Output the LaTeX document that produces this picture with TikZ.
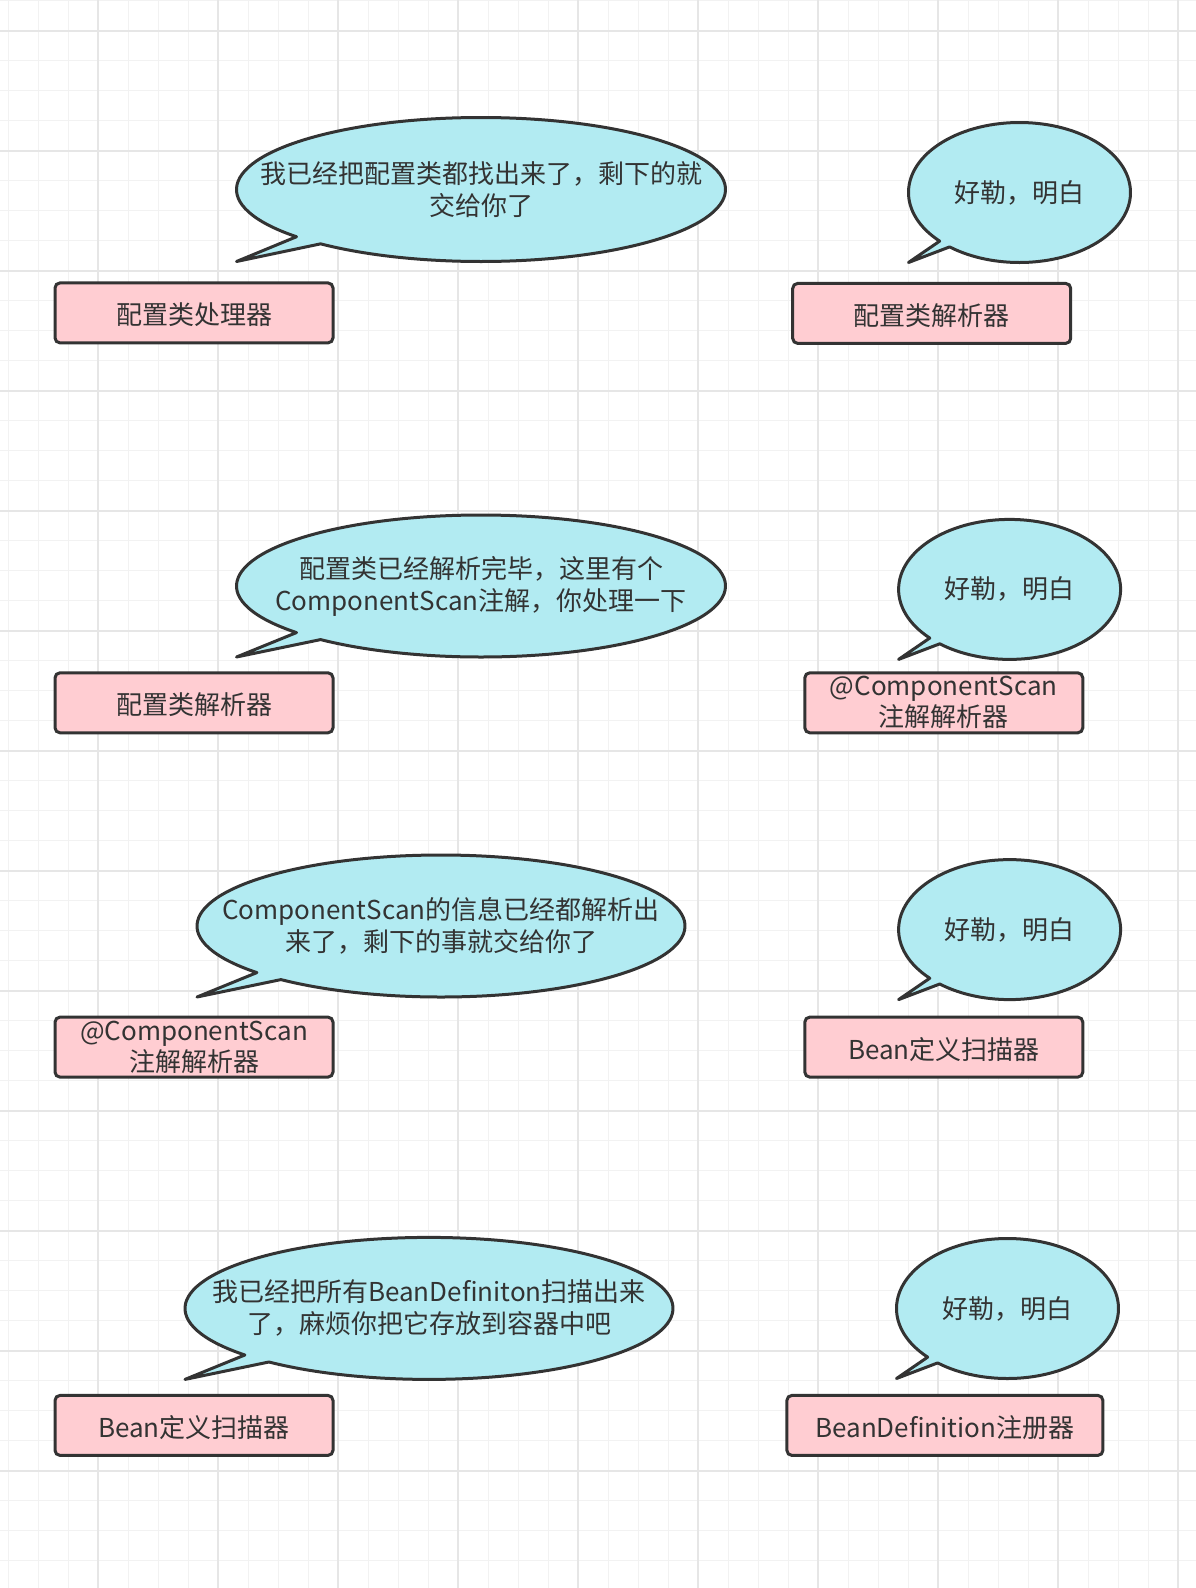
\documentclass[tikz,border=0pt]{standalone}
\usepackage{fontspec}
\setmainfont{Noto Sans CJK SC}
\usetikzlibrary{calc}
\definecolor{inkgray}{HTML}{333333}
\definecolor{bubblecyan}{HTML}{B2EBF2}
\definecolor{boxpink}{HTML}{FFCDD2}
\definecolor{gridlight}{HTML}{F2F2F2}
\definecolor{griddark}{HTML}{E6E6E6}
\tikzstyle{gridminor}=[line width=1.5pt,draw=gridlight]
\tikzstyle{gridmajor}=[line width=2pt,draw=griddark]
\tikzstyle{bubble}   =[line width=3pt,draw=inkgray,fill=bubblecyan,line join=round]
\tikzstyle{saying}   =[text=inkgray,align=center,inner sep=0pt,
                       font=\fontsize{26}{32}\selectfont]
\tikzstyle{actor}    =[draw=inkgray,line width=3pt,fill=boxpink,
                       rounded corners=5pt,text=inkgray,align=center,
                       inner sep=0pt,minimum width=278pt,minimum height=60pt,
                       font=\fontsize{26}{31}\selectfont]
\tikzstyle{oneline}  =[text height=25.5pt,text depth=1.7pt]
\newcommand\saybubble[7]{{%
  % #1 name, #2 centre, #3 x radius, #4 y radius,
  % #5 upper tail angle, #6 lower tail angle, #7 text
  \draw[bubble] ($(#2)+(#5:#3 and #4)$)
    arc[start angle=#5,end angle=#6+360,x radius=#3,y radius=#4]
    -- ($(#2)+(-#3,#4)$) -- cycle;   % tail tip at lower left
  \node[saying] (#1) at (#2) {#7};
}}
\begin{document}
\begin{tikzpicture}[x=1pt,y=-1pt]
  % Paper and grid
  \useasboundingbox[fill=white] (0,0) rectangle (1196,1588);
  \foreach \g in {0,...,39} \draw[gridminor] (8.3+30*\g,0) -- (8.3+30*\g,1588);
  \foreach \g in {0,...,52} \draw[gridminor] (0,0.7+30*\g) -- (1196,0.7+30*\g);
  \foreach \g in {0,...,9}  \draw[gridmajor] (98.3+120*\g,0) -- (98.3+120*\g,1588);
  \foreach \g in {0,...,12} \draw[gridmajor] (0,30.7+120*\g) -- (1196,30.7+120*\g);

  % Bubble centres
  \coordinate (SL1) at (481,189.5);
  \coordinate (SR1) at (1019.5,192.5);
  \coordinate (SL2) at (481,586);
  \coordinate (SR2) at (1009.6,589.4);
  \coordinate (SL3) at (441,926);
  \coordinate (SR3) at (1009.6,929.6);
  \coordinate (SL4) at (429,1308.4);
  \coordinate (SR4) at (1007.5,1308.5);

  % Row 1
  \saybubble{sayL1}{SL1}{244.5}{72}{139}{131}{我已经把配置类都找出来了，剩下的就\\交给你了}
  \saybubble{sayR1}{SR1}{111}{70}{136}{129}{好勒，明白}
  \node[actor,oneline] (procL1) at (194,312.9)   {配置类处理器};
  \node[actor,oneline] (procR1) at (931.7,313.4) {配置类解析器};

  % Row 2
  \saybubble{sayL2}{SL2}{244.5}{71}{139}{131}{配置类已经解析完毕，这里有个\\ComponentScan注解，你处理一下}
  \saybubble{sayR2}{SR2}{111}{70}{136}{129}{好勒，明白}
  \node[actor,oneline] (procL2) at (194,702.8) {配置类解析器};
  \node[actor] (procR2) at (943.8,702.8) {@ComponentScan\\注解解析器};

  % Row 3
  \saybubble{sayL3}{SL3}{244}{71}{139}{131}{ComponentScan的信息已经都解析出\\来了，剩下的事就交给你了}
  \saybubble{sayR3}{SR3}{111}{70}{136}{129}{好勒，明白}
  \node[actor] (procL3) at (194,1047.1) {@ComponentScan\\注解解析器};
  \node[actor,oneline] (procR3) at (943.8,1047.1) {Bean定义扫描器};

  % Row 4
  \saybubble{sayL4}{SL4}{244}{71}{139}{131}{我已经把所有BeanDefiniton扫描出来\\了，麻烦你把它存放到容器中吧}
  \saybubble{sayR4}{SR4}{111}{70}{136}{129}{好勒，明白}
  \node[actor,oneline] (procL4) at (194,1425.4) {Bean定义扫描器};
  \node[actor,oneline,minimum width=316pt] (procR4) at (944.9,1425.4) {BeanDefinition注册器};
\end{tikzpicture}
\end{document}
